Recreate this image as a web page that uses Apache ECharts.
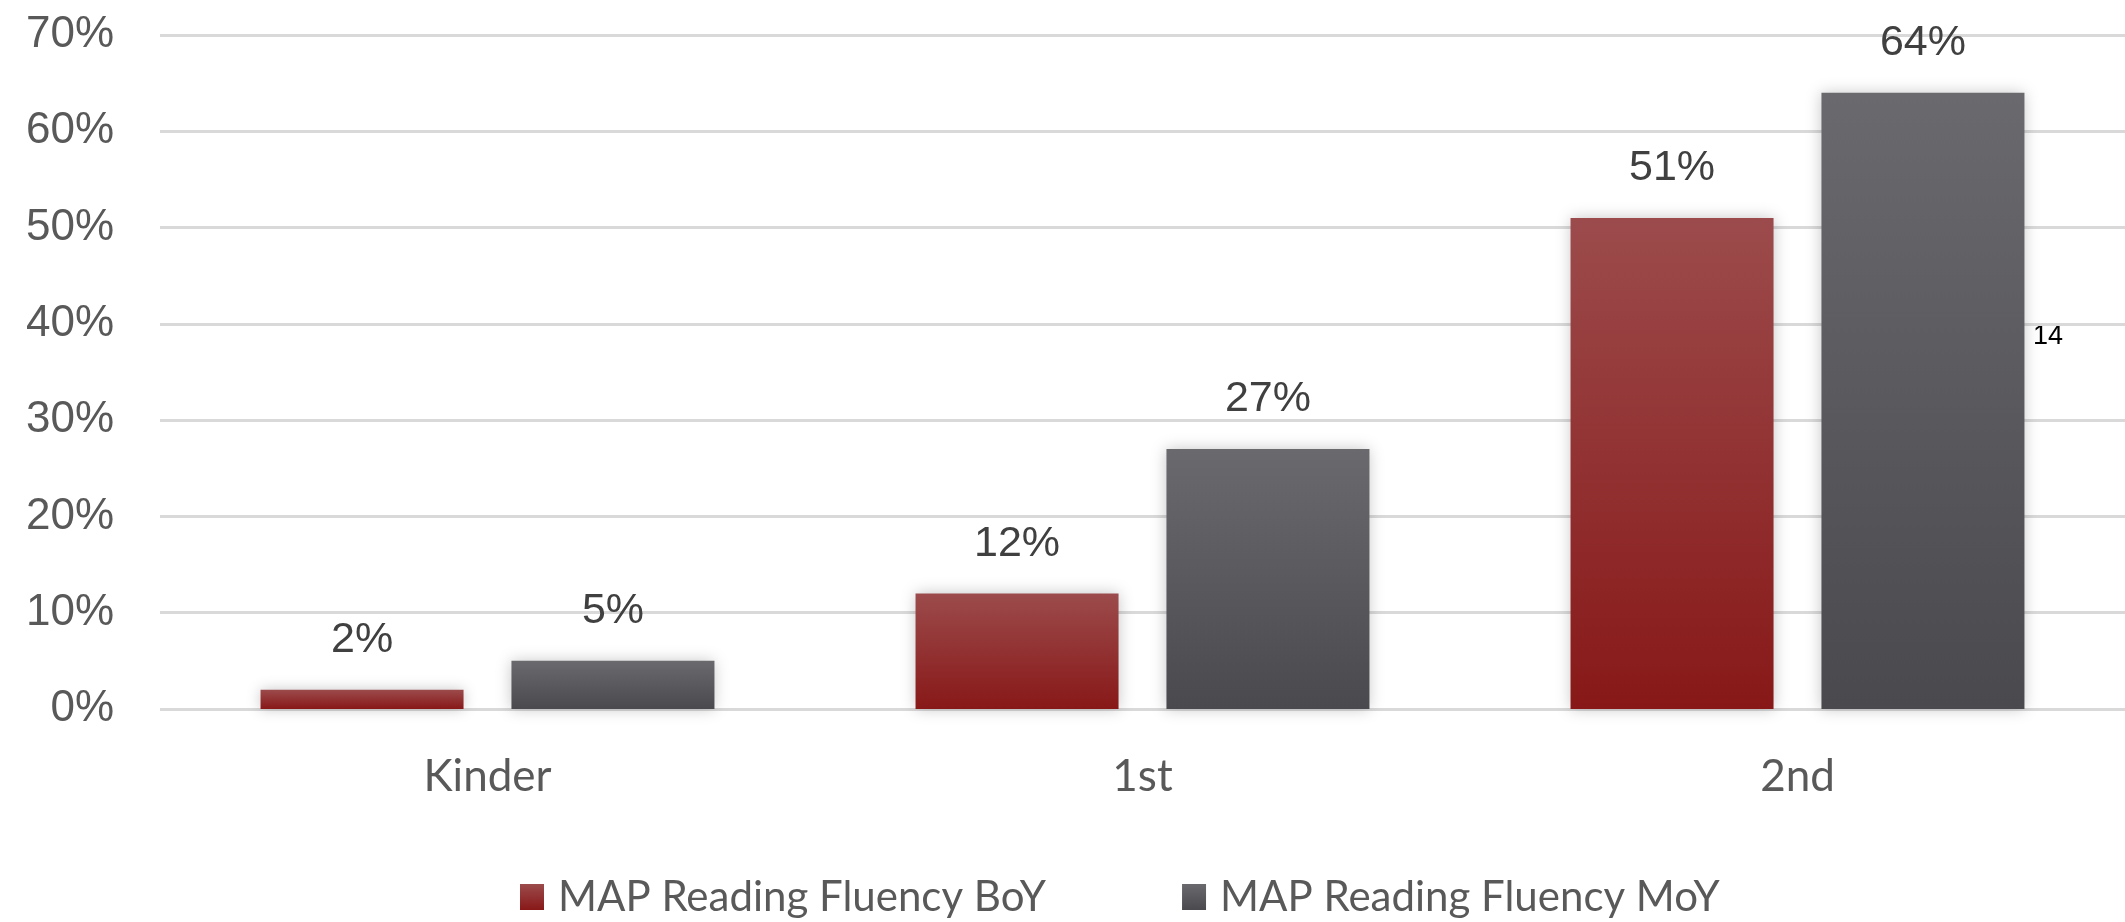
<!DOCTYPE html>
<html>
<head>
<meta charset="utf-8">
<style>
  html, body { margin: 0; padding: 0; background: #fff; }
  #chart { width: 2125px; height: 922px; }
</style>
<script src="https://cdn.jsdelivr.net/npm/echarts@6/dist/echarts.min.js"></script>
</head>
<body>
<div id="chart"></div>
<script>
var categories = ["Kinder", "1st", "2nd"];
var boyValues = [2, 12, 51];
var moyValues = [5, 27, 64];
var seriesNames = ["MAP Reading Fluency BoY", "MAP Reading Fluency MoY"];

var myChart = echarts.init(document.getElementById("chart"));

function barStyle(top, bottom) {
  return {
    color: new echarts.graphic.LinearGradient(0, 0, 0, 1, [
      { offset: 0, color: top },
      { offset: 1, color: bottom },
    ]),
    shadowColor: "rgba(0,0,0,0.22)",
    shadowBlur: 14,
  };
}

var labelStyle = {
  show: true,
  position: "top",
  distance: 28,
  formatter: "{c}%",
  fontFamily: "Liberation Sans",
  fontSize: 43,
  color: "#404040",
};

var option = {
  animation: false,
  grid: {
    left: 160,
    right: 0,
    top: 35,
    bottom: 213,
  },
  legend: {
    data: seriesNames,
    icon: "rect",
    left: 515,
    top: 871,
    itemWidth: 24,
    itemHeight: 26,
    itemGap: 136,
    textStyle: {
      fontFamily: "Lato",
      fontSize: 42,
      color: "#595959",
      padding: [0, 0, 0, 9],
    },
  },
  xAxis: {
    type: "category",
    data: categories,
    axisLine: { show: false },
    axisTick: { show: false },
    axisLabel: {
      margin: 46,
      fontFamily: "Lato",
      fontSize: 44,
      color: "#595959",
    },
  },
  yAxis: {
    type: "value",
    min: 0,
    max: 70,
    interval: 10,
    axisLine: { show: false },
    axisTick: { show: false },
    axisLabel: {
      margin: 46,
      formatter: "{value}%",
      fontFamily: "Liberation Sans",
      fontSize: 44,
      color: "#595959",
    },
    splitLine: {
      lineStyle: { color: "#d9d9d9", width: 3 },
    },
  },
  series: [
    {
      name: seriesNames[0],
      type: "bar",
      barWidth: 203,
      barGap: "23.6%",
      itemStyle: barStyle("#9c4b4c", "#881818"),
      label: labelStyle,
      data: boyValues,
    },
    {
      name: seriesNames[1],
      type: "bar",
      barWidth: 203,
      barGap: "23.6%",
      itemStyle: barStyle("#6a696d", "#4a494e"),
      label: labelStyle,
      data: moyValues,
    },
  ],
  graphic: [
    {
      type: "text",
      left: 2033,
      top: 323,
      style: {
        text: "14",
        fontFamily: "Liberation Sans",
        fontSize: 27,
        fill: "#000",
      },
    },
  ],
};
myChart.setOption(option);
</script>
</body>
</html>
